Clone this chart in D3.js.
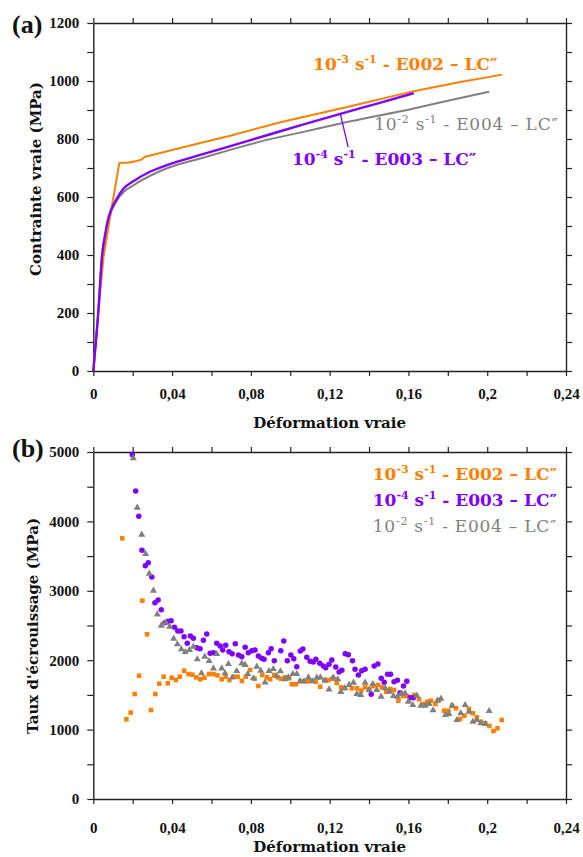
<!DOCTYPE html>
<html><head><meta charset="utf-8">
<script src="https://cdn.jsdelivr.net/npm/d3@7"></script>
<style>
html,body{margin:0;padding:0;background:#fff;}
svg{display:block;font-family:"Liberation Serif","Times New Roman",serif;}
</style></head>
<body>
<svg id="c" width="583" height="857"></svg>
<script>
// ---------- DATA ----------
const xTickValues = [0, 0.04, 0.08, 0.12, 0.16, 0.2, 0.24];
const xTickLabels = ["0", "0,04", "0,08", "0,12", "0,16", "0,2", "0,24"];
const yTopTicks = [0, 200, 400, 600, 800, 1000, 1200];
const yBotTicks = [0, 1000, 2000, 3000, 4000, 5000];

const colOrange = "#ff8000", colPurple = "#8000ff", colGray = "#808080";

// (a) true stress–strain curves
const e002Strain = [0, 0.0025, 0.0052, 0.0091, 0.0132, 0.018, 0.022, 0.0245, 0.0262, 0.03, 0.04, 0.0543, 0.07, 0.095, 0.105, 0.13, 0.1627, 0.185, 0.2076];
const e002Stress = [0, 200, 394, 555, 717, 719, 724, 729, 739, 745, 762, 786, 812, 858, 873, 912, 965, 995, 1022];
const e003Strain = [0, 0.0025, 0.0045, 0.006, 0.007, 0.009, 0.012, 0.0155, 0.0205, 0.029, 0.0374, 0.0543, 0.0713, 0.0882, 0.105, 0.125, 0.145, 0.1627];
const e003Stress = [0, 200, 400, 470, 509, 555, 595, 630, 655, 688, 710, 745, 779, 813, 847, 886, 924, 958];
const e004Strain = [0, 0.0025, 0.0044, 0.006, 0.008, 0.012, 0.0155, 0.0205, 0.0374, 0.0543, 0.0713, 0.0882, 0.105, 0.13, 0.1627, 0.18, 0.201];
const e004Stress = [0, 200, 400, 468, 528, 588, 618, 641, 699, 733, 766, 797, 822, 860, 905, 932, 963];

// (b) work hardening rate
const e002HStrain = [0.0147,0.0168,0.0190,0.0210,0.0232,0.0249,0.0273,0.0293,0.0315,0.0335,0.0357,0.0378,0.0398,0.0419,0.0439,0.0461,0.0483,0.0503,0.0523,0.0543,0.0564,0.0588,0.0610,0.0630,0.0652,0.0672,0.0691,0.0715,0.0733,0.0754,0.0774,0.0796,0.0818,0.0838,0.0858,0.0881,0.0898,0.0918,0.0937,0.0953,0.0974,0.0994,0.1008,0.1028,0.1051,0.1072,0.1092,0.1112,0.1130,0.1152,0.1173,0.1194,0.1214,0.1236,0.1258,0.1278,0.1312,0.1338,0.1360,0.1380,0.1402,0.1422,0.1445,0.1465,0.1487,0.1507,0.1527,0.1549,0.1572,0.1592,0.1612,0.1630,0.1654,0.1676,0.1696,0.1715,0.1737,0.1756,0.1781,0.1803,0.1822,0.1842,0.1863,0.1884,0.1907,0.1927,0.1947,0.1968,0.1990,0.2011,0.2032,0.2052,0.2074];
const e002HRate = [3756,1148,1244,1513,1777,2858,2373,1282,1513,1661,1762,1667,1748,1715,1762,1849,1801,1791,1753,1725,1748,1801,1801,1782,1725,1762,1715,1762,1762,1700,1762,1859,1733,1628,1787,1753,1725,1787,1753,1733,1753,1739,1653,1653,1696,1696,1696,1705,1690,1618,1715,1715,1733,1676,1609,1595,1595,1595,1561,1609,1585,1628,1643,1609,1546,1585,1571,1416,1484,1484,1465,1499,1437,1369,1402,1416,1369,1427,1272,1272,1344,1307,1153,1200,1297,1235,1177,1114,1091,1052,980,1019,1138];

const e003HStrain = [0.0198,0.0215,0.0231,0.0247,0.0264,0.0279,0.0297,0.0313,0.0329,0.0345,0.0364,0.0379,0.0395,0.0412,0.0429,0.0445,0.0461,0.0477,0.0493,0.0508,0.0525,0.0542,0.0559,0.0576,0.0593,0.0610,0.0627,0.0644,0.0657,0.0672,0.0689,0.0705,0.0721,0.0737,0.0754,0.0771,0.0787,0.0805,0.0821,0.0838,0.0855,0.0867,0.0889,0.0903,0.0919,0.0952,0.0967,0.0985,0.1003,0.1018,0.1033,0.1051,0.1064,0.1084,0.1101,0.1117,0.1130,0.1150,0.1168,0.1180,0.1197,0.1211,0.1231,0.1248,0.1262,0.1279,0.1295,0.1316,0.1329,0.1346,0.1363,0.1380,0.1411,0.1426,0.1445,0.1462,0.1477,0.1494,0.1509,0.1527,0.1544,0.1558,0.1575,0.1592,0.1609,0.1625];
const e003HRate = [4961,4438,4073,3583,3362,3405,3199,2829,2867,2728,2540,2560,2569,2474,2421,2421,2339,2243,2349,2316,2180,2166,2286,2378,2099,2108,2243,2205,2147,2214,2123,2094,2238,2075,2051,2186,2108,2137,2147,2061,2027,2013,2108,2166,1993,2137,2277,1993,2075,2022,1906,2133,2161,2042,1984,1974,2013,1955,1916,1892,1941,2003,1902,1830,1854,2094,2079,1993,1869,1787,1849,1869,1509,1916,1945,1739,1681,1797,1797,1690,1710,1532,1628,1696,1460,1460];

const e004HStrain = [0.0203,0.0223,0.0246,0.0266,0.0284,0.0305,0.0325,0.0345,0.0368,0.0388,0.0408,0.0427,0.0447,0.0467,0.0488,0.0508,0.0528,0.0549,0.0566,0.0588,0.0610,0.0627,0.0652,0.0669,0.0686,0.0706,0.0728,0.0754,0.0771,0.0784,0.0813,0.0830,0.0850,0.0872,0.0892,0.0914,0.0931,0.0950,0.0974,0.0990,0.1013,0.1033,0.1050,0.1070,0.1092,0.1112,0.1135,0.1153,0.1177,0.1197,0.1219,0.1241,0.1257,0.1277,0.1299,0.1321,0.1338,0.1358,0.1380,0.1400,0.1419,0.1439,0.1461,0.1482,0.1504,0.1524,0.1544,0.1561,0.1583,0.1600,0.1622,0.1643,0.1663,0.1685,0.1705,0.1725,0.1747,0.1765,0.1788,0.1805,0.1822,0.1846,0.1866,0.1888,0.1908,0.1927,0.1947,0.1968,0.1991,0.2010];
const e004HRate = [4909,4197,3808,3530,3246,3001,2661,2497,2540,2483,2310,2229,2157,2118,2147,2195,2013,1811,2050,1988,1883,2089,1883,1811,1945,1753,1844,1955,1931,1801,1739,1906,1849,1681,1844,1873,1772,1840,1725,1753,1801,1801,1700,1696,1753,1696,1748,1753,1705,1580,1753,1725,1542,1599,1643,1676,1513,1499,1676,1571,1657,1571,1474,1595,1546,1484,1474,1513,1523,1402,1354,1489,1344,1344,1369,1278,1416,1445,1210,1225,1344,1138,1235,1354,1258,1114,1138,1091,1081,1268];

// ---------- DRAW ----------
const svg = d3.select("#c");
const X0 = 93.3, X1 = 566;
const xTop = d3.scaleLinear([0, 0.24], [X0, X1]);
const yTop = d3.scaleLinear([0, 1200], [371, 23]);
const xBot = d3.scaleLinear([0, 0.24], [X0, X1]);
const yBot = d3.scaleLinear([0, 5000], [799, 452]);
const TITLE_FONT = "DejaVu Serif";

const fmtX = v => { const i = xTickValues.findIndex(t => Math.abs(t - v) < 1e-9); return i >= 0 ? xTickLabels[i] : ""; };
const minorX = d3.range(0, 0.2401, 0.02);

function frame(x, y, yMajor, yStep, xPad) {
  const [ymin, ymax] = y.domain();
  const minorY = d3.range(ymin, ymax + 1, yStep);
  const fmtY = v => yMajor.includes(v) ? String(v) : "";
  const yb = y.range()[0], yt = y.range()[1];
  const g = svg.append("g");
  g.append("g").attr("transform", `translate(0,${yb})`)
    .call(d3.axisBottom(x).tickValues(minorX).tickSize(5).tickSizeOuter(0).tickPadding(xPad).tickFormat(fmtX));
  g.append("g").attr("transform", `translate(0,${yt})`)
    .call(d3.axisTop(x).tickValues(minorX).tickSize(5).tickSizeOuter(0).tickFormat(""));
  g.append("g").attr("transform", `translate(${X0},0)`)
    .call(d3.axisLeft(y).tickValues(minorY).tickSize(6).tickSizeOuter(0).tickPadding(8).tickFormat(fmtY));
  g.append("g").attr("transform", `translate(${X1},0)`)
    .call(d3.axisRight(y).tickValues(minorY).tickSize(6).tickSizeOuter(0).tickFormat(""));
  g.selectAll("path.domain").attr("stroke", "#222").attr("stroke-width", 1.4);
  g.selectAll(".tick line").attr("stroke", "#222").attr("stroke-width", 1.2);
  g.selectAll(".tick text").attr("font-family", "Liberation Serif").attr("font-weight", "bold")
    .attr("font-size", 15).attr("fill", "#111");
}

frame(xTop, yTop, yTopTicks, 100, 12);
frame(xBot, yBot, yBotTicks, 500, 18);

// titles
function title(txt, x, y, rot) {
  const t = svg.append("text").attr("font-family", TITLE_FONT).attr("font-weight", "bold")
    .attr("font-size", 15).attr("fill", "#111").attr("text-anchor", "middle").text(txt);
  if (rot) t.attr("transform", `translate(${x},${y}) rotate(-90)`); else t.attr("x", x).attr("y", y);
}
title("Déformation vraie", (X0 + X1) / 2, 428);
title("Déformation vraie", (X0 + X1) / 2, 852);
title("Contrainte vraie (MPa)", 41, 179, true);
title("Taux d'écrouissage (MPa)", 38, 626, true);
svg.append("text").attr("x", 12).attr("y", 33).attr("font-weight", "bold").attr("font-size", 26).attr("fill", "#111").text("(a)");
svg.append("text").attr("x", 12).attr("y", 457).attr("font-weight", "bold").attr("font-size", 26).attr("fill", "#111").text("(b)");

// curves
const lineM = d3.line().x(d => xTop(d[0])).y(d => yTop(d[1])).curve(d3.curveMonotoneX);
const lineL = d3.line().x(d => xTop(d[0])).y(d => yTop(d[1]));
const curves = [
  { s: e004Strain, v: e004Stress, c: colGray, w: 2, l: lineM },
  { s: e002Strain, v: e002Stress, c: colOrange, w: 2, l: lineL },
  { s: e003Strain, v: e003Stress, c: colPurple, w: 2.4, l: lineM }
];
curves.forEach(k => {
  svg.append("path").datum(d3.zip(k.s, k.v)).attr("d", k.l)
    .attr("fill", "none").attr("stroke", k.c).attr("stroke-width", k.w).attr("stroke-linejoin", "round");
});

// labels
function label(x, y, exp, name, color, weight, anchor) {
  const t = svg.append("text").attr("x", x).attr("y", y).attr("fill", color)
    .attr("font-family", TITLE_FONT).attr("font-size", 17).attr("font-weight", weight)
    .attr("text-anchor", anchor || "start");
  if (weight === "normal") t.attr("letter-spacing", 0.75);
  t.append("tspan").text("10");
  t.append("tspan").attr("font-size", 11).attr("dy", -7).text(exp);
  t.append("tspan").attr("dy", 7).text(" s");
  t.append("tspan").attr("font-size", 11).attr("dy", -7).text("-1");
  t.append("tspan").attr("dy", 7).text(" - " + name + " \u2013 LC\u2033");
}
label(xTop(0.1116), yTop(1038), "-3", "E002", colOrange, "bold");
label(xTop(0.1426), yTop(831), "-2", "E004", colGray, "normal");
label(xTop(0.1009), yTop(710), "-4", "E003", colPurple, "bold");
svg.append("line").attr("x1", xTop(0.1255)).attr("y1", yTop(885)).attr("x2", xTop(0.1294)).attr("y2", yTop(772))
  .attr("stroke", colPurple).attr("stroke-width", 1.3);

label(xBot(0.2355), yBot(4597), "-3", "E002", colOrange, "bold", "end");
label(xBot(0.2355), yBot(4222), "-4", "E003", colPurple, "bold", "end");
label(xBot(0.2355), yBot(3847), "-2", "E004", colGray, "normal", "end");

// scatter
const sets = [
  { s: e002HStrain, v: e002HRate, c: colOrange, sym: d3.symbolSquare, size: 21 },
  { s: e003HStrain, v: e003HRate, c: colPurple, sym: d3.symbolCircle, size: 24 },
  { s: e004HStrain, v: e004HRate, c: colGray, sym: d3.symbolTriangle, size: 22 }
];
sets.forEach(k => {
  svg.append("g").selectAll("path").data(d3.zip(k.s, k.v)).join("path")
    .attr("transform", d => `translate(${xBot(d[0])},${yBot(d[1])})`)
    .attr("d", d3.symbol(k.sym, k.size)).attr("fill", k.c);
});
</script>
</body></html>
